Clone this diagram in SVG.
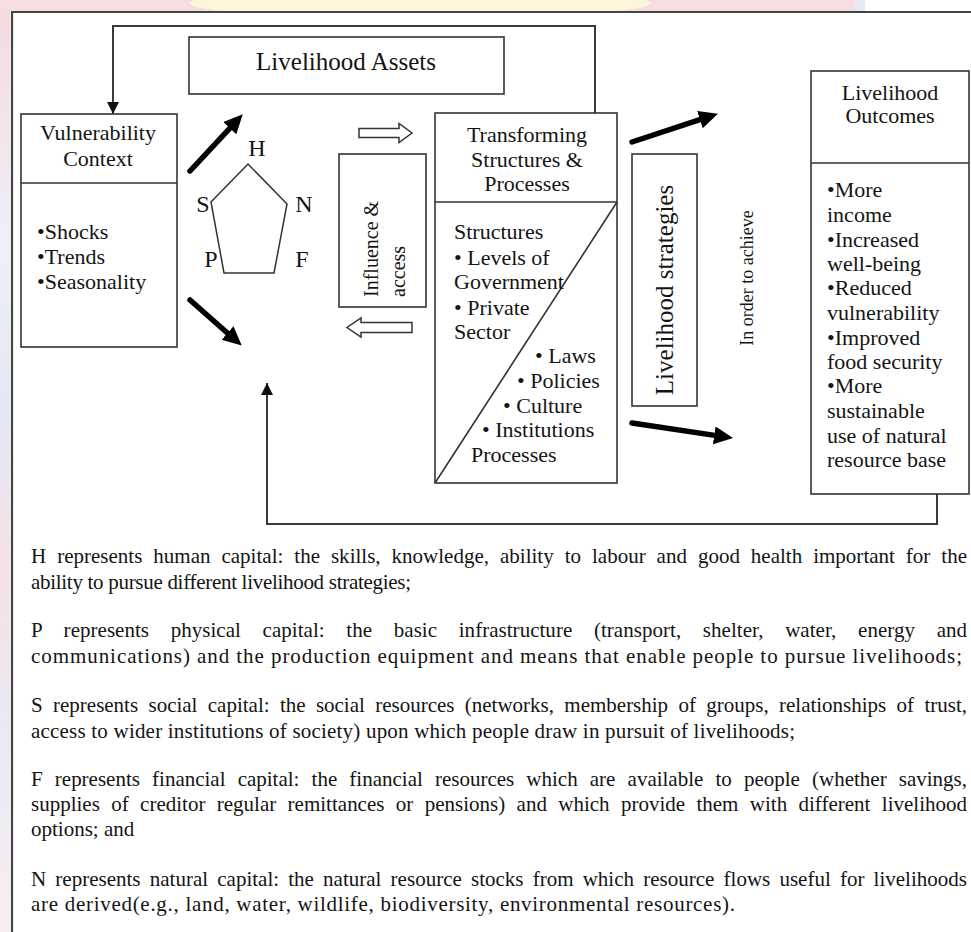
<svg xmlns="http://www.w3.org/2000/svg" width="971" height="932" viewBox="0 0 971 932">
<defs>
<style>
.t{font-family:"Liberation Serif","Times New Roman",serif;fill:#141414}
.f22{font-size:22px}
.f21{font-size:21px}
.f20{font-size:20px}
.mid{text-anchor:middle}
.box{fill:#fff;stroke:#333;stroke-width:1.6}
.ln{fill:none;stroke:#333;stroke-width:1.6}
.fb{fill:none;stroke:#3a3a3a;stroke-width:2}
.thick{fill:none;stroke:#000;stroke-width:5.5;stroke-linecap:round}
.hollow{fill:#fff;stroke:#333;stroke-width:1.5;stroke-linejoin:miter}
</style>
<marker id="tri" markerUnits="userSpaceOnUse" markerWidth="14" markerHeight="14" refX="12" refY="6" orient="auto">
<path d="M0,0 L12,6 L0,12 Z" fill="#111"/>
</marker>
<marker id="big" markerUnits="userSpaceOnUse" markerWidth="22" markerHeight="20" refX="4" refY="9" orient="auto">
<path d="M0,0 L19,9 L0,18 Z" fill="#000"/>
</marker>
<linearGradient id="lg" x1="0" y1="0" x2="0" y2="1">
<stop offset="0" stop-color="#f6dadf"/>
<stop offset="0.25" stop-color="#eef0f7"/>
<stop offset="0.45" stop-color="#e4e7f2"/>
<stop offset="0.6" stop-color="#f5e1e6"/>
<stop offset="0.8" stop-color="#e9ebf4"/>
<stop offset="1" stop-color="#f8eef0"/>
</linearGradient>
<clipPath id="topclip"><rect x="0" y="0" width="865" height="11"/></clipPath>
</defs>
<rect x="0" y="0" width="971" height="932" fill="#fff"/>
<g id="watermark">
<rect x="0" y="0" width="865" height="11" fill="#f7dde1"/>
<ellipse cx="420" cy="3" rx="230" ry="16" fill="#fdf7da" clip-path="url(#topclip)"/>
<rect x="855" y="0" width="10" height="11" fill="#e6e9f3"/>
<rect x="0" y="11" width="10" height="921" fill="url(#lg)"/>
</g>
<g id="frame">
<path d="M12,932 L12,12 L971,12" fill="none" stroke="#444" stroke-width="2.2"/>
</g>

<g id="connectors">
<polyline class="fb" points="595,113 595,26 113,26 113,114" marker-end="url(#tri)"/>
<polyline class="fb" points="937,494 937,524 267,524 267,383" marker-end="url(#tri)"/>
<line class="thick" x1="190" y1="171" x2="232.5" y2="125.3" marker-end="url(#big)"/>
<line class="thick" x1="190" y1="300" x2="230.5" y2="335.7" marker-end="url(#big)"/>
<line class="thick" x1="632" y1="142" x2="703.7" y2="118.4" marker-end="url(#big)"/>
<line class="thick" x1="632" y1="423" x2="718.2" y2="435.9" marker-end="url(#big)"/>
<path class="hollow" d="M359,128.5 L399,128.5 L399,123.5 L412,133 L399,142.5 L399,137.5 L359,137.5 Z"/>
<path class="hollow" d="M412,322.5 L361,322.5 L361,318 L347,327.5 L361,337 L361,332.5 L412,332.5 Z"/>
</g>

<g id="assets">
<rect class="box" x="189" y="37" width="315" height="57"/>
<text class="t mid" x="346" y="70" style="font-size:25px">Livelihood Assets</text>
</g>

<g id="vulnerability">
<rect class="box" x="21" y="114" width="156" height="233"/>
<line class="ln" x1="21" y1="183" x2="177" y2="183"/>
<text class="t f22 mid" x="98" y="140">Vulnerability</text>
<text class="t f22 mid" x="98" y="166">Context</text>
<text class="t f22" x="37" y="239">•Shocks</text>
<text class="t f22" x="37" y="264">•Trends</text>
<text class="t f22" x="37" y="289">•Seasonality</text>
</g>

<g id="pentagon">
<polygon points="248,164 287,204 274,273 224,273 211,202" fill="none" stroke="#333" stroke-width="1.5"/>
<text class="t mid" style="font-size:24px" x="257" y="156">H</text>
<text class="t mid" style="font-size:24px" x="203" y="212">S</text>
<text class="t mid" style="font-size:24px" x="304" y="212">N</text>
<text class="t mid" style="font-size:24px" x="211" y="267">P</text>
<text class="t mid" style="font-size:24px" x="302" y="267">F</text>
</g>

<g id="influence">
<rect class="box" x="339" y="154" width="87" height="153"/>
<text class="t f20" transform="translate(378,297) rotate(-90)">Influence &amp;</text>
<text class="t f20" transform="translate(405,297) rotate(-90)">access</text>
</g>

<g id="transforming">
<rect class="box" x="435" y="113" width="182" height="370"/>
<line class="ln" x1="435" y1="202" x2="617" y2="202"/>
<line class="ln" x1="617" y1="202" x2="435" y2="483"/>
<text class="t f22 mid" x="527" y="142">Transforming</text>
<text class="t f22 mid" x="527" y="167">Structures &amp;</text>
<text class="t f22 mid" x="527" y="191">Processes</text>
<text class="t f22" x="454" y="239">Structures</text>
<text class="t f22" x="454" y="265">• Levels of</text>
<text class="t f22" x="454" y="289">Government</text>
<text class="t f22" x="454" y="315">• Private</text>
<text class="t f22" x="454" y="339">Sector</text>
<text class="t f22" x="535" y="363">• Laws</text>
<text class="t f22" x="517" y="388">• Policies</text>
<text class="t f22" x="503" y="413">• Culture</text>
<text class="t f22" x="482" y="437">• Institutions</text>
<text class="t f22" x="471" y="462">Processes</text>
</g>

<g id="strategies">
<rect class="box" x="632" y="154" width="65" height="252"/>
<text class="t mid" style="font-size:25px" transform="translate(673,290) rotate(-90)">Livelihood strategies</text>
</g>

<g id="achieve">
<text class="t mid" style="font-size:18px" transform="translate(753,278) rotate(-90)">In order to achieve</text>
</g>

<g id="outcomes">
<rect class="box" x="811" y="71" width="158" height="423"/>
<line class="ln" x1="811" y1="163" x2="969" y2="163"/>
<text class="t f22 mid" x="890" y="100">Livelihood</text>
<text class="t f22 mid" x="890" y="123">Outcomes</text>
<text class="t f22" x="827" y="197">•More</text>
<text class="t f22" x="827" y="222">income</text>
<text class="t f22" x="827" y="247">•Increased</text>
<text class="t f22" x="827" y="271">well-being</text>
<text class="t f22" x="827" y="295">•Reduced</text>
<text class="t f22" x="827" y="320">vulnerability</text>
<text class="t f22" x="827" y="345">•Improved</text>
<text class="t f22" x="827" y="369">food security</text>
<text class="t f22" x="827" y="393">•More</text>
<text class="t f22" x="827" y="418">sustainable</text>
<text class="t f22" x="827" y="443">use of natural</text>
<text class="t f22" x="827" y="467">resource base</text>
</g>

<g id="legend">
<text class="t f21" x="31" y="563" word-spacing="5.7" textLength="936" lengthAdjust="spacing">H represents human capital: the skills, knowledge, ability to labour and good health important for the</text>
<text class="t f21" x="31" y="589" textLength="380" lengthAdjust="spacing">ability to pursue different livelihood strategies;</text>
<text class="t f21" x="31" y="637" word-spacing="16.4" textLength="936" lengthAdjust="spacing">P represents physical capital: the basic infrastructure (transport, shelter, water, energy and</text>
<text class="t f21" x="31" y="663" textLength="931" lengthAdjust="spacing">communications) and the production equipment and means that enable people to pursue livelihoods;</text>
<text class="t f21" x="31" y="712" word-spacing="5.1" textLength="936" lengthAdjust="spacing">S represents social capital: the social resources (networks, membership of groups, relationships of trust,</text>
<text class="t f21" x="31" y="738" textLength="764" lengthAdjust="spacing">access to wider institutions of society) upon which people draw in pursuit of livelihoods;</text>
<text class="t f21" x="31" y="786" word-spacing="6.9" textLength="936" lengthAdjust="spacing">F represents financial capital: the financial resources which are available to people (whether savings,</text>
<text class="t f21" x="31" y="811" word-spacing="6.1" textLength="936" lengthAdjust="spacing">supplies of creditor regular remittances or pensions) and which provide them with different livelihood</text>
<text class="t f21" x="31" y="836">options; and</text>
<text class="t f21" x="31" y="886" word-spacing="3.9" textLength="936" lengthAdjust="spacing">N represents natural capital: the natural resource stocks from which resource flows useful for livelihoods</text>
<text class="t f21" x="31" y="911" textLength="704" lengthAdjust="spacing">are derived(e.g., land, water, wildlife, biodiversity, environmental resources).</text>
</g>
</svg>
